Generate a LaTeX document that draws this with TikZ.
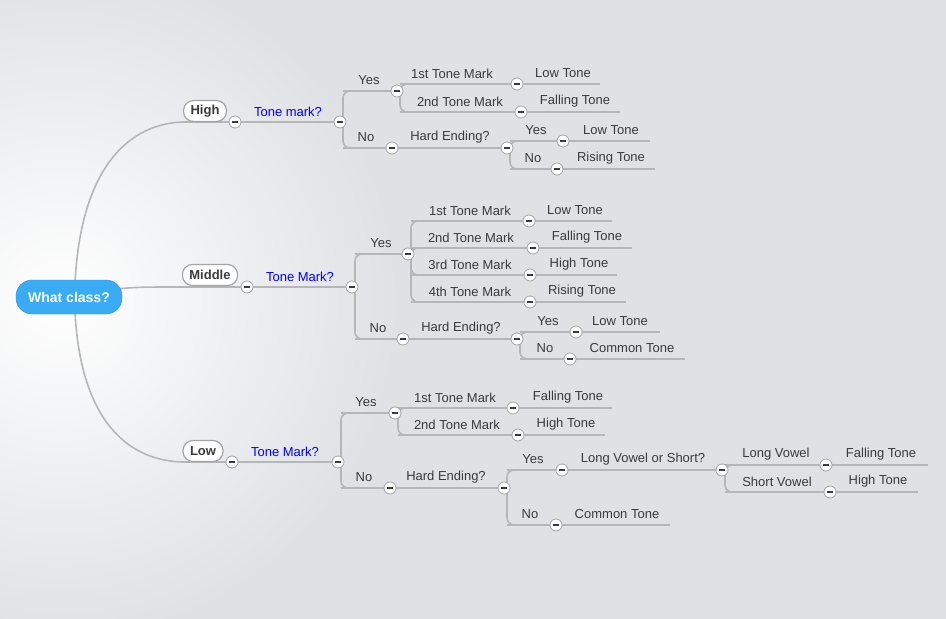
\documentclass[tikz,border=0pt]{standalone}
\usepackage{fontspec}
\setmainfont{Liberation Sans}
\definecolor{bg}{HTML}{DFE1E5}
\definecolor{ln}{HTML}{B5B6B8}
\definecolor{tx}{HTML}{3A3A3A}
\definecolor{rootc}{HTML}{3AABF5}
\definecolor{rootb}{HTML}{2A8FD8}
\newcommand{\tpc}[5]{% x1 x2 y tx text
  \draw[br] (#1,#3) -- (#2,#3);
  \node[lab] (n#1x#3) at (#4,#3-10.5) {#5};}
\newcommand{\brc}[3]{% px py cy
  \draw[br,rounded corners=7] (#1+3,#2) -- (#1+3,#3) -- (#1+20,#3);}
\newcommand{\cc}[2]{\node[cir] (c#1x#2) at (#1,#2) {}; \draw[tx,line width=1.4] (#1-2.8,#2)--(#1+2.8,#2);}
\begin{document}
\begin{tikzpicture}[x=1pt,y=-1pt,
  br/.style={ln,line width=1.6},
  lab/.style={text=tx,font=\fontsize{13}{15}\selectfont,inner sep=0},
  cir/.style={circle,draw=ln!90!black,fill=white,line width=0.8,minimum size=12,inner sep=0},
  pill/.style={draw=ln!90!black,fill=white,line width=1.2,rounded corners=10,minimum height=21,inner xsep=7,text=tx,font=\bfseries\fontsize{13}{15}\selectfont}]
\useasboundingbox (0,0) rectangle (946,619);
\begin{scope}
\clip (0,0) rectangle (946,619);
\fill[bg] (0,0) rectangle (946,619);
\shade[inner color=white,outer color=bg] (60,300) circle (340);
\end{scope}
% root links
\draw[br] (75,283) .. controls (80,180) and (120,125) .. (182,122);
\draw[br] (75,312) .. controls (80,410) and (120,460) .. (182,462);
\draw[br] (115,289) .. controls (140,287) .. (182,287);
% HIGH
\draw[br] (182,122) -- (235,122);
\node[pill] (high) at (205,111) {High};
\tpc{235}{340}{122}{288}{\textcolor{blue}{Tone mark?}}
\brc{340}{122}{91}\tpc{343}{397}{91}{369}{Yes}
\brc{340}{122}{148}\tpc{343}{392}{148}{366}{No}
\brc{397}{91}{84}\tpc{400}{517}{84}{452}{1st Tone Mark}
\brc{397}{91}{112}\tpc{400}{521}{112}{460}{2nd Tone Mark}
\tpc{517}{600}{84}{563}{Low Tone}
\tpc{521}{620}{112}{575}{Falling Tone}
\tpc{392}{507}{148}{450}{Hard Ending?}
\brc{507}{148}{141}\tpc{510}{563}{141}{536}{Yes}
\brc{507}{148}{169}\tpc{510}{557}{169}{533}{No}
\tpc{563}{650}{141}{611}{Low Tone}
\tpc{557}{655}{169}{611}{Rising Tone}
\cc{235}{122}\cc{340}{122}\cc{397}{91}\cc{392}{148}\cc{517}{84}\cc{521}{112}\cc{507}{148}\cc{563}{141}\cc{557}{169}
% MIDDLE
\draw[br] (182,287) -- (247,287);
\node[pill] (middle) at (210,275) {Middle};
\tpc{247}{352}{287}{300}{\textcolor{blue}{Tone Mark?}}
\brc{352}{287}{254}\tpc{355}{408}{254}{381}{Yes}
\brc{352}{287}{339}\tpc{355}{403}{339}{378}{No}
\brc{408}{254}{221}\tpc{411}{529}{221}{470}{1st Tone Mark}
\brc{408}{254}{248}\tpc{411}{533}{248}{471}{2nd Tone Mark}
\brc{408}{254}{275}\tpc{411}{530}{275}{470}{3rd Tone Mark}
\brc{408}{254}{302}\tpc{411}{530}{302}{470}{4th Tone Mark}
\tpc{529}{612}{221}{575}{Low Tone}
\tpc{533}{632}{248}{587}{Falling Tone}
\tpc{530}{617}{275}{579}{High Tone}
\tpc{530}{626}{302}{582}{Rising Tone}
\tpc{403}{517}{339}{461}{Hard Ending?}
\brc{517}{339}{332}\tpc{520}{576}{332}{548}{Yes}
\brc{517}{339}{359}\tpc{520}{570}{359}{545}{No}
\tpc{576}{660}{332}{620}{Low Tone}
\tpc{570}{685}{359}{632}{Common Tone}
\cc{247}{287}\cc{352}{287}\cc{408}{254}\cc{403}{339}\cc{529}{221}\cc{533}{248}\cc{530}{275}\cc{530}{302}\cc{517}{339}\cc{576}{332}\cc{570}{359}
% LOW
\draw[br] (182,462) -- (232,462);
\node[pill] (low) at (203,451) {Low};
\tpc{232}{338}{462}{285}{\textcolor{blue}{Tone Mark?}}
\brc{338}{462}{413}\tpc{341}{395}{413}{366}{Yes}
\brc{338}{462}{488}\tpc{341}{390}{488}{364}{No}
\brc{395}{413}{408}\tpc{398}{513}{408}{455}{1st Tone Mark}
\brc{395}{413}{435}\tpc{398}{518}{435}{457}{2nd Tone Mark}
\tpc{513}{612}{408}{568}{Falling Tone}
\tpc{518}{605}{435}{566}{High Tone}
\tpc{390}{504}{488}{446}{Hard Ending?}
\brc{504}{488}{470}\tpc{507}{562}{470}{533}{Yes}
\brc{504}{488}{525}\tpc{507}{556}{525}{530}{No}
\tpc{562}{722}{470}{643}{Long Vowel or Short?}
\brc{722}{470}{465}\tpc{725}{826}{465}{776}{Long Vowel}
\brc{722}{470}{492}\tpc{725}{830}{492}{777}{Short Vowel}
\tpc{826}{928}{465}{881}{Falling Tone}
\tpc{830}{918}{492}{878}{High Tone}
\tpc{556}{670}{525}{617}{Common Tone}
\cc{232}{462}\cc{338}{462}\cc{395}{413}\cc{390}{488}\cc{513}{408}\cc{518}{435}\cc{504}{488}\cc{562}{470}\cc{556}{525}\cc{722}{470}\cc{826}{465}\cc{830}{492}
% root
\node[draw=rootb,fill=rootc,rounded corners=16,minimum width=106,minimum height=34,text=white,font=\bfseries\fontsize{14}{16}\selectfont] (root) at (69,297) {What class?};
\end{tikzpicture}
\end{document}
